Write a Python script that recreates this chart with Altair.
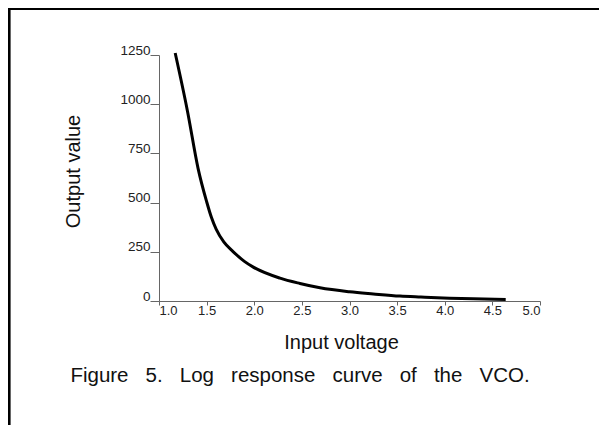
import altair as alt
import pandas as pd

# Data
volts = [1.17, 1.30, 1.41, 1.50, 1.55, 1.60, 1.68, 1.78, 1.90, 1.99, 2.27, 2.48, 2.69, 3.00, 3.25, 3.53, 3.75, 4.05, 4.30, 4.64]
output = [1260, 962, 674, 505, 425, 365, 300, 250, 200, 172, 116, 89, 67, 47, 36, 25, 20, 14, 11, 8]
x_ticks = [1.0, 1.5, 2.0, 2.5, 3.0, 3.5, 4.0, 4.5, 5.0]
y_ticks = [0, 250, 500, 750, 1000, 1250]
x_title = "Input voltage"
y_title = "Output value"
caption = "Figure\u00a0\u00a0\u00a05.\u00a0\u00a0\u00a0Log\u00a0\u00a0\u00a0response\u00a0\u00a0\u00a0curve\u00a0\u00a0\u00a0of\u00a0\u00a0\u00a0the\u00a0\u00a0\u00a0VCO."

df = pd.DataFrame({"v": volts, "o": output})

FONT = "Liberation Sans"
PAD_L, PAD_T, PAD_R, PAD_B = 151, 47, 59, 124
W, H = 381, 246

line = alt.Chart(df).mark_line(color="black", strokeWidth=3, interpolate="monotone").encode(
    x=alt.X("v:Q", scale=alt.Scale(domain=[1, 5], nice=False, zero=False),
            axis=alt.Axis(values=x_ticks, format=".1f", title=x_title, grid=False,
                          domainColor="#666", domainWidth=1, tickColor="#666", tickSize=4,
                          labelPadding=-1, labelFont=FONT, labelFontSize=13, labelColor="#222",
                          titleFont=FONT, titleFontSize=20, titleFontWeight="normal", titleColor="#111",
                          titleX=182, titleY=47, titleBaseline="alphabetic")),
    y=alt.Y("o:Q", scale=alt.Scale(domain=[0, 1250], nice=False),
            axis=alt.Axis(values=y_ticks, format="d", title=y_title, grid=False,
                          domainColor="#666", domainWidth=1, tickColor="#666", tickSize=9,
                          labelPadding=0, labelBaseline="alphabetic", labelOffset=-1,
                          labelFont=FONT, labelFontSize=13.5, labelColor="#222",
                          titleFont=FONT, titleFontSize=20, titleFontWeight="normal", titleColor="#111",
                          titleX=-76, titleY=116)),
)

top_border = alt.Chart().mark_rule(color="black", strokeWidth=3).encode(
    x=alt.value(-PAD_L), x2=alt.value(W + PAD_R), y=alt.value(-PAD_T + 0.5))
left_border = alt.Chart().mark_rule(color="black", strokeWidth=2.6).encode(
    x=alt.value(-PAD_L + 1.3), y=alt.value(-PAD_T), y2=alt.value(H + PAD_B))

cap = alt.Chart().mark_text(font=FONT, fontSize=20.5,
                            align="center", baseline="alphabetic", color="#111").encode(
    x=alt.value(141), y=alt.value(327), text=alt.value(caption))

chart = alt.layer(line, top_border, left_border, cap).properties(
    width=W, height=H,
    padding={"left": PAD_L, "top": PAD_T, "right": PAD_R, "bottom": PAD_B},
    autosize="none",
).configure_view(stroke=None)

chart.save("out.html", embed_options={"renderer": "svg", "actions": False})
